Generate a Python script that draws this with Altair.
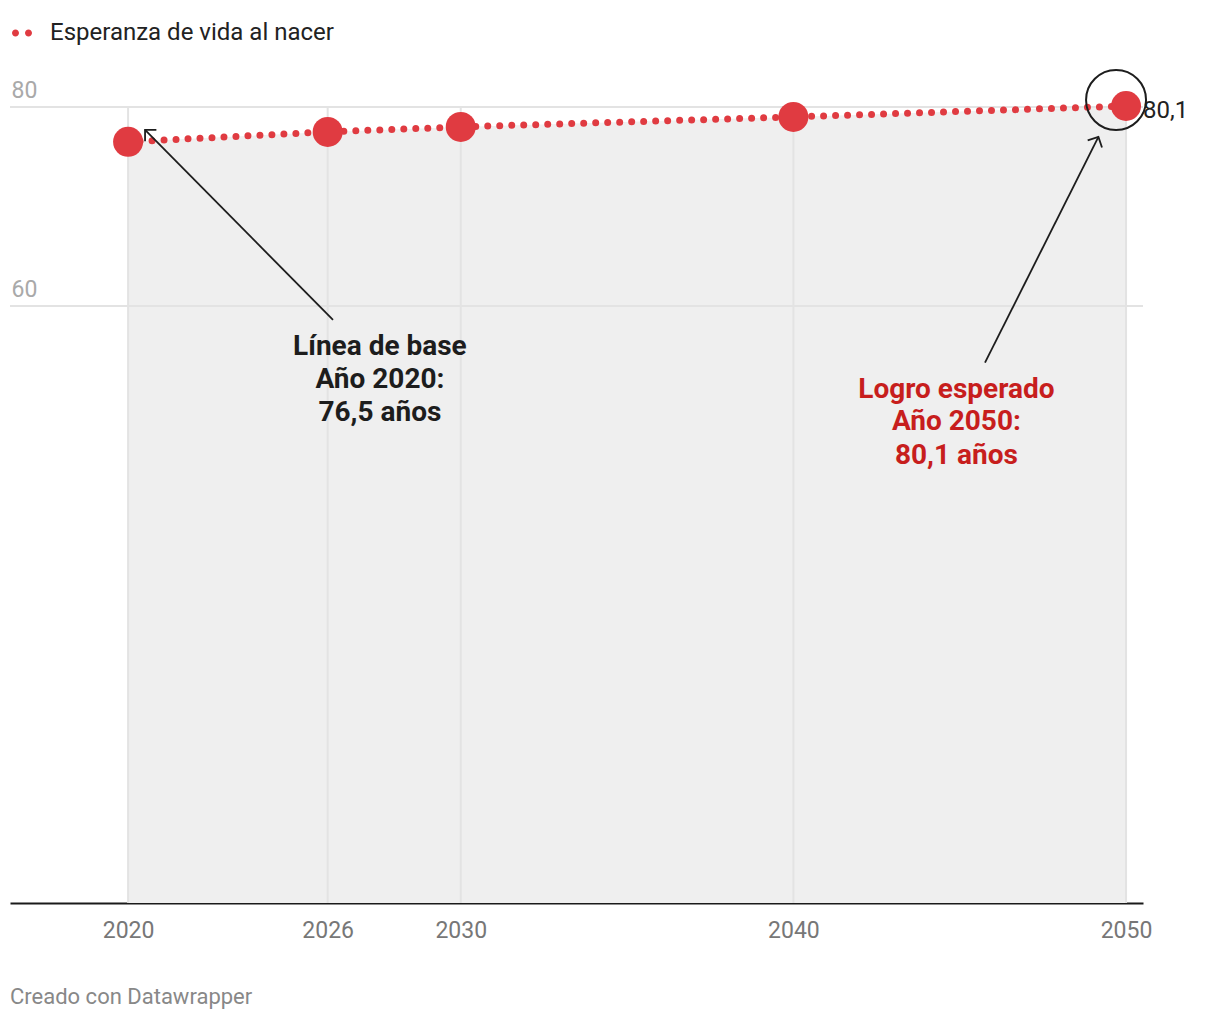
import altair as alt
import pandas as pd

# ---- data ----
series_name = "Esperanza de vida al nacer"
years = [2020, 2026, 2030, 2040, 2050]
values = [76.5, 77.5, 78.0, 79.0, 80.1]
x_ticks = [2020, 2026, 2030, 2040, 2050]
y_ticks = [60, 80]
footer = "Creado con Datawrapper"

note_base_lines = ["Línea de base", "Año 2020:", "76,5 años"]
note_goal_lines = ["Logro esperado", "Año 2050:", "80,1 años"]

RED = "#e03b41"
DARK_RED = "#c71e1d"
INK = "#1d1d1d"
FONT = "Roboto"

df = pd.DataFrame({"year": years, "value": values, "series": series_name})
df["label"] = [f"{v}".replace(".", ",") for v in values]
last = df.tail(1)

# annotation geometry in data coordinates
base_x, base_ys = 2027.57, [55.9, 52.6, 49.2]
goal_x, goal_ys = 2044.9, [51.6, 48.3, 44.9]
notes_base = pd.DataFrame({"x": base_x, "y": base_ys, "t": note_base_lines})
notes_goal = pd.DataFrame({"x": goal_x, "y": goal_ys, "t": note_goal_lines})

arrows = pd.DataFrame({
    "x": [2026.16, 2045.76], "y": [58.6, 54.3],
    "x2": [2020.51, 2049.17], "y2": [77.7, 77.0],
    "ang": [315, 26.6],
})
ring = pd.DataFrame({"x": [2049.7], "y": [80.7]})
vgrid = pd.DataFrame({"x": x_ticks, "y": 0, "y2": 80})
hgrid = pd.DataFrame({"y": y_ticks})

xs = alt.Scale(domain=[2016.45, 2050.51], nice=False, zero=False)
ys = alt.Scale(domain=[0, 80], nice=False)

x_axis = alt.Axis(
    values=x_ticks, format="d", title=None, grid=False, ticks=False, tickSize=0,
    domain=True, domainColor="#1a1a1a", domainWidth=2,
    labelFontSize=23, labelColor="#777777", labelFont=FONT,
    labelPadding=16, labelBaseline="top",
)
y_axis = alt.Axis(
    values=y_ticks, title=None, grid=False, ticks=False, tickSize=0, domain=False,
    labelFontSize=23, labelColor="#a9a9a9", labelFont=FONT,
    labelAlign="left", labelBaseline="alphabetic", labelPadding=-1,
    labelOffset=-10,
)


def X(f):
    return alt.X(f, type="quantitative", scale=xs, axis=x_axis)


def Y(f):
    return alt.Y(f, type="quantitative", scale=ys, axis=y_axis)


base = alt.Chart(df)

area = base.mark_area(color="#efefef", opacity=1).encode(x=X("year"), y=Y("value"))

hg = alt.Chart(hgrid).mark_rule(color="#e3e3e3", strokeWidth=2).encode(y=Y("y"))
vg = alt.Chart(vgrid).mark_rule(color="#e3e3e3", strokeWidth=2).encode(
    x=X("x"), y=Y("y"), y2=alt.Y2("y2")
)

line = base.mark_line(
    color=RED, strokeWidth=7, strokeCap="round", strokeDash=[0, 12]
).encode(x=X("year"), y=Y("value"))

two_dots = ("M -1 0 A 0.35 0.35 0 1 1 -0.3 0 A 0.35 0.35 0 1 1 -1 0 Z "
            "M 0.3 0 A 0.35 0.35 0 1 1 1 0 A 0.35 0.35 0 1 1 0.3 0 Z")

points = base.mark_point(filled=True, size=900, opacity=1, shape="circle").encode(
    x=X("year"), y=Y("value"),
    color=alt.Color(
        "series:N",
        scale=alt.Scale(range=[RED]),
        legend=alt.Legend(
            title=None, orient="none", legendX=0, legendY=-86,
            symbolType=two_dots, symbolSize=400, symbolStrokeWidth=0,
            symbolFillColor=RED, symbolOpacity=1,
            labelFontSize=24, labelColor="#222222", labelFont=FONT,
            labelOffset=16, padding=0, labelLimit=800,
        ),
    ),
)

end_label = alt.Chart(last).mark_text(
    align="left", baseline="middle", dx=17, dy=5, fontSize=24, font=FONT, color="#222222"
).encode(x=X("year"), y=Y("value"), text="label:N")

arrow_lines = alt.Chart(arrows).mark_rule(color=INK, strokeWidth=1.8).encode(
    x=X("x"), y=Y("y"), x2=alt.X2("x2"), y2=alt.Y2("y2")
)
arrow_heads = alt.Chart(arrows).mark_point(
    shape="M -1 1 L 0 0 L 1 1", size=256, filled=False, color=INK,
    strokeWidth=1.8, opacity=1
).encode(x=X("x2"), y=Y("y2"), angle=alt.Angle("ang:Q", scale=None))

ring_mark = alt.Chart(ring).mark_point(
    shape="circle", size=3600, filled=False, color=INK, strokeWidth=2, opacity=1
).encode(x=X("x"), y=Y("y"))

txt_base = alt.Chart(notes_base).mark_text(
    align="center", baseline="middle", fontSize=28, fontWeight="bold", font=FONT, color=INK
).encode(x=X("x"), y=Y("y"), text="t:N")
txt_goal = alt.Chart(notes_goal).mark_text(
    align="center", baseline="middle", fontSize=28, fontWeight="bold", font=FONT, color=DARK_RED
).encode(x=X("x"), y=Y("y"), text="t:N")

chart = alt.layer(
    area, hg, vg, line, points, end_label, arrow_lines, arrow_heads, ring_mark,
    txt_base, txt_goal,
).properties(
    width=1133, height=796,
    autosize="none",
    padding={"left": 2, "top": 99, "right": 67, "bottom": 112},
    title=alt.TitleParams(
        footer, orient="bottom", anchor="start", frame="group",
        fontSize=22, fontWeight="normal", color="#888888", font=FONT, offset=45,
    ),
).configure(font=FONT, view=alt.ViewConfig(stroke=None))

chart.save("out.html", embed_options={"renderer": "svg", "actions": False})
